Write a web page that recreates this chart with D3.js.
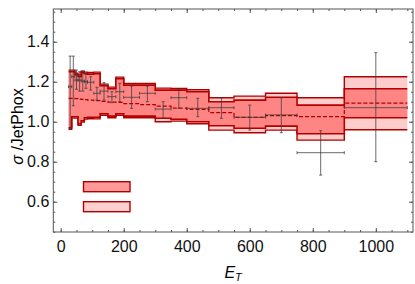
<!DOCTYPE html>
<html>
<head>
<meta charset="utf-8">
<script src="https://cdn.jsdelivr.net/npm/d3@7"></script>
<style>
  body { margin: 0; background: #fff; }
  svg { display: block; font-family: "Liberation Sans", Arial, sans-serif; }
</style>
</head>
<body>
<svg id="chart"></svg>
<script>
// bin edges in E_T
const edges = [25, 35, 45, 55, 65, 75, 85, 105, 125, 150, 175, 200, 250, 300, 350, 400, 470, 550, 650, 750, 900, 1100];

// theory / JetPhox, central value (dashed)
const central = [1.117, 1.117, 1.115, 1.113, 1.112, 1.11, 1.108, 1.105, 1.102, 1.098, 1.097, 1.09, 1.085, 1.078, 1.068, 1.062, 1.045, 1.022, 1.03, 1.025, 1.093];

// inner band (scale uncertainty)
const innerLo = [0.97, 1.025, 1.025, 0.99, 1.005, 1.02, 1.022, 1.022, 1.04, 1.028, 1.04, 1.028, 1.028, 1.017, 1.012, 1.0, 0.98, 0.967, 0.978, 0.94, 1.02];
const innerHi = [1.25, 1.25, 1.235, 1.225, 1.245, 1.24, 1.238, 1.24, 1.18, 1.165, 1.215, 1.183, 1.183, 1.158, 1.158, 1.15, 1.10, 1.108, 1.122, 1.083, 1.165];

// outer band (total uncertainty)
const outerLo = [0.962, 1.018, 1.018, 0.982, 0.998, 1.013, 1.015, 1.014, 1.032, 1.02, 1.032, 1.02, 1.02, 1.0, 1.003, 0.99, 0.958, 0.945, 0.958, 0.908, 0.96];
const outerHi = [1.258, 1.258, 1.243, 1.233, 1.253, 1.248, 1.246, 1.248, 1.188, 1.173, 1.223, 1.191, 1.191, 1.168, 1.166, 1.16, 1.12, 1.128, 1.142, 1.12, 1.225];

// data / JetPhox
const dataVal = [1.175, 1.225, 1.208, 1.208, 1.203, 1.2, 1.197, 1.142, 1.153, 1.125, 1.15, 1.122, 1.142, 1.063, 1.12, 1.067, 1.07, 1.022, 1.034, 0.845, 1.07];
const dataLo = [0.967, 1.08, 1.162, 1.153, 1.153, 1.167, 1.158, 1.108, 1.108, 1.095, 1.1, 1.067, 1.1, 1.017, 1.067, 1.025, 1.017, 0.958, 0.945, 0.733, 0.80];
const dataHi = [1.328, 1.328, 1.258, 1.25, 1.253, 1.242, 1.225, 1.172, 1.195, 1.15, 1.192, 1.178, 1.178, 1.10, 1.162, 1.117, 1.12, 1.083, 1.12, 0.955, 1.345];

const xTicks = [0, 200, 400, 600, 800, 1000];
const yTicks = [0.6, 0.8, 1.0, 1.2, 1.4];

const width = 415;
const height = 284;
const margin = { top: 9, right: 2, bottom: 52, left: 53.3 };

const svg = d3.select("#chart").attr("width", width).attr("height", height);

const x = d3.scaleLinear().domain([-23.5, 1118]).range([margin.left, width - margin.right]);
const y = d3.scaleLinear().domain([0.4485, 1.5635]).range([height - margin.bottom, margin.top]);

const darkRed = "#b20000";

// step points for a per-bin series
function steps(vals) {
  const pts = [];
  vals.forEach((v, i) => {
    pts.push([edges[i], v]);
    pts.push([edges[i + 1], v]);
  });
  return pts;
}
function bandPts(lo, hi) {
  const pts = [];
  lo.forEach((v, i) => {
    pts.push([edges[i], v, hi[i]]);
    pts.push([edges[i + 1], v, hi[i]]);
  });
  return pts;
}

const area = d3.area()
  .x(d => x(d[0]))
  .y0(d => y(d[1]))
  .y1(d => y(d[2]));
const line = d3.line()
  .x(d => x(d[0]))
  .y(d => y(d[1]));

const plot = svg.append("g");

// outer band
plot.append("path")
  .attr("d", area(bandPts(outerLo, outerHi)))
  .attr("fill", "#ffcccc");
[outerLo, outerHi].forEach(s => {
  plot.append("path")
    .attr("d", line(steps(s)))
    .attr("fill", "none")
    .attr("stroke", darkRed)
    .attr("stroke-width", 1.4);
});

// inner band
plot.append("path")
  .attr("d", area(bandPts(innerLo, innerHi)))
  .attr("fill", "#ff8585");
[innerLo, innerHi].forEach(s => {
  plot.append("path")
    .attr("d", line(steps(s)))
    .attr("fill", "none")
    .attr("stroke", darkRed)
    .attr("stroke-width", 1.6);
});

// central value
plot.append("path")
  .attr("d", line(steps(central)))
  .attr("fill", "none")
  .attr("stroke", darkRed)
  .attr("stroke-width", 1.2)
  .attr("stroke-dasharray", "4,2");

// data crosses
const cap = 1.5;
const pts = plot.append("g")
  .attr("stroke", "#3a3a3a")
  .attr("stroke-opacity", 0.75)
  .attr("stroke-width", 1)
  .attr("fill", "none");
dataVal.forEach((v, i) => {
  const x0 = x(edges[i]), x1 = x(edges[i + 1]);
  const xc = (x0 + x1) / 2;
  const yc = y(v), ylo = y(dataLo[i]), yhi = y(dataHi[i]);
  pts.append("path")
    .attr("d",
      `M${x0},${yc}H${x1}` +
      `M${x0},${yc - cap}V${yc + cap}M${x1},${yc - cap}V${yc + cap}` +
      `M${xc},${yhi}V${ylo}` +
      `M${xc - cap},${yhi}H${xc + cap}M${xc - cap},${ylo}H${xc + cap}`);
});

// legend boxes
const legend = [
  { fill: "#ff9a9a", y: 181.7 },
  { fill: "#ffd0d0", y: 201.7 }
];
svg.selectAll("rect.leg")
  .data(legend)
  .enter()
  .append("rect")
  .attr("class", "leg")
  .attr("x", 83.5)
  .attr("y", d => d.y)
  .attr("width", 46.5)
  .attr("height", 10)
  .attr("fill", d => d.fill)
  .attr("stroke", darkRed)
  .attr("stroke-width", 1.4);

// frame with ticks on all sides
const frameColor = "#555";
const minorX = d3.range(0, 1101, 50);
const minorY = d3.range(0.45, 1.56, 0.05);
const bottom = height - margin.bottom;
const right = width - margin.right;

function styleAxis(g) {
  g.select(".domain").remove();
  g.selectAll("line").attr("stroke", frameColor);
  g.selectAll("text").attr("fill", "#111").style("font-size", "16px");
}

svg.append("g")
  .attr("transform", `translate(0,${bottom})`)
  .call(d3.axisBottom(x).tickValues(minorX).tickSize(-2).tickFormat(""))
  .call(styleAxis);
svg.append("g")
  .attr("transform", `translate(0,${bottom})`)
  .call(d3.axisBottom(x).tickValues(xTicks).tickSize(-4).tickPadding(9).tickFormat(d3.format("d")))
  .call(styleAxis);
svg.append("g")
  .attr("transform", `translate(0,${margin.top})`)
  .call(d3.axisTop(x).tickValues(minorX).tickSize(-2).tickFormat(""))
  .call(styleAxis);
svg.append("g")
  .attr("transform", `translate(0,${margin.top})`)
  .call(d3.axisTop(x).tickValues(xTicks).tickSize(-4).tickFormat(""))
  .call(styleAxis);

svg.append("g")
  .attr("transform", `translate(${margin.left},0)`)
  .call(d3.axisLeft(y).tickValues(minorY).tickSize(-2).tickFormat(""))
  .call(styleAxis);
svg.append("g")
  .attr("transform", `translate(${margin.left},0)`)
  .call(d3.axisLeft(y).tickValues(yTicks).tickSize(-4).tickPadding(4).tickFormat(d3.format(".1f")))
  .call(styleAxis);
svg.append("g")
  .attr("transform", `translate(${right},0)`)
  .call(d3.axisRight(y).tickValues(minorY).tickSize(-2).tickFormat(""))
  .call(styleAxis);
svg.append("g")
  .attr("transform", `translate(${right},0)`)
  .call(d3.axisRight(y).tickValues(yTicks).tickSize(-4).tickFormat(""))
  .call(styleAxis);

svg.append("rect")
  .attr("x", margin.left)
  .attr("y", margin.top)
  .attr("width", right - margin.left)
  .attr("height", bottom - margin.top)
  .attr("fill", "none")
  .attr("stroke", frameColor)
  .attr("stroke-width", 1);

// axis titles
svg.append("text")
  .attr("x", (margin.left + right) / 2)
  .attr("y", 277.5)
  .attr("text-anchor", "middle")
  .style("font-size", "16px")
  .style("font-style", "italic")
  .html('E<tspan dy="3" style="font-size:11px">T</tspan>');

svg.append("text")
  .attr("text-anchor", "middle")
  .attr("transform", `translate(23,${(margin.top + bottom) / 2 + 6}) rotate(-90)`)
  .style("font-size", "16px")
  .html('<tspan style="font-style:italic">σ</tspan> /JetPhox');
</script>
</body>
</html>
